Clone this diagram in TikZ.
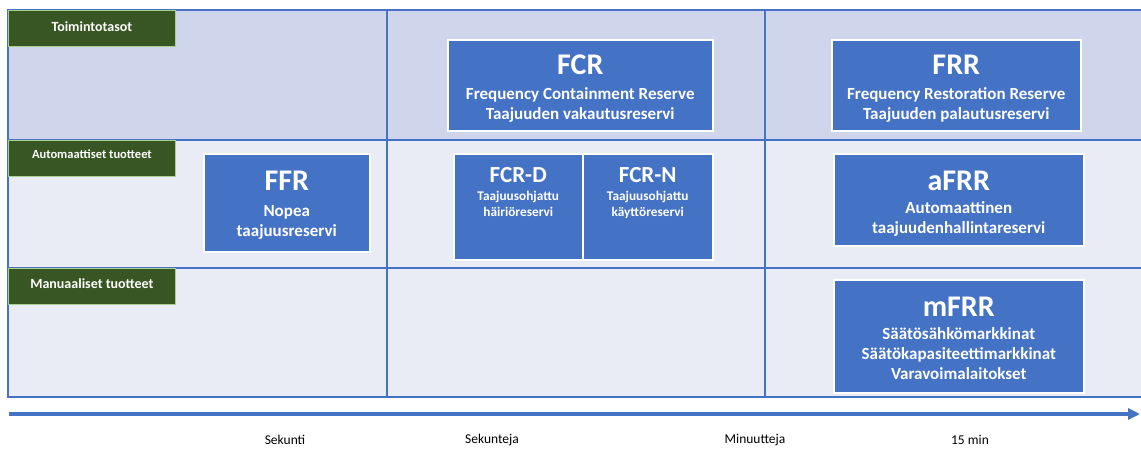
\documentclass[tikz,border=0pt]{standalone}
\usepackage{fontspec}
\setmainfont{Carlito}
\usetikzlibrary{arrows.meta, positioning}

\definecolor{resblue}{HTML}{4472C4}
\definecolor{levelgreen}{HTML}{375623}
\definecolor{levelrim}{HTML}{A9D18E}
\definecolor{toprow}{HTML}{CFD5EA}
\definecolor{lowrow}{HTML}{E9EBF5}

\newcommand{\restitle}[1]{{\fontsize{30}{30}\selectfont #1}}
\newcommand{\ressmalltitle}[1]{{\fontsize{23}{23}\selectfont #1}}

\begin{document}
\begin{tikzpicture}[
		x=1pt, y=-1pt,
		% Styles
		reservebox/.style={draw=white, line width=1.5pt, fill=resblue, inner sep=0pt, anchor=north west},
		restext/.style={text=white, font=\bfseries\fontsize{17}{20}\selectfont, align=center, inner sep=0pt, anchor=north},
		ressmall/.style={text=white, font=\bfseries\fontsize{13.3}{16}\selectfont, align=center, inner sep=0pt, anchor=north},
		levelbox/.style={draw=levelrim, line width=0.8pt, fill=levelgreen, minimum width=167pt, minimum height=36pt, inner sep=0pt, anchor=north west},
		leveltext/.style={text=white, font=\bfseries\fontsize{14}{16}\selectfont, inner sep=0pt, anchor=north},
		gridline/.style={draw=resblue, line width=1.4pt},
		axisarrow/.style={-{Triangle[length=12pt, width=11pt]}, draw=resblue, line width=3.2pt},
		timelabel/.style={font=\fontsize{13.5}{16}\selectfont, text=black, inner sep=0pt}
		]
		
		\useasboundingbox[fill=white] (0,0) rectangle (1141,448);
		
		% =========================================================
		% 1. GRID: three levels, three time columns
		% =========================================================
		\fill[toprow] (8,10) rectangle (1141,140);
		\fill[lowrow] (8,140) rectangle (1141,397);
		\draw[gridline] (1141,10) -- (8,10) -- (8,397) -- (1141,397);
		\foreach \y in {140,268}
			\draw[gridline] (8,\y) -- (1141,\y);
		\foreach \x in {387,765}
			\draw[gridline] (\x,10) -- (\x,397);
		
		% Level labels
		\node[levelbox] (L1) at (8,10) {};
		\node[leveltext, below=11pt of L1.north] {Toimintotasot};
		\node[levelbox] (L2) at (8,140) {};
		\node[leveltext, font=\bfseries\fontsize{12.5}{15}\selectfont, below=10pt of L2.north] {Automaattiset tuotteet};
		\node[levelbox] (L3) at (8,268) {};
		\node[leveltext, below=10pt of L3.north] {Manuaaliset tuotteet};
		
		% =========================================================
		% 2. TOP LEVEL: FCR and FRR
		% =========================================================
		\node[reservebox, minimum width=265pt, minimum height=91pt] (FCR) at (447,39) {};
		\node[restext, below=16pt of FCR.north] {\restitle{FCR}\\[5pt] Frequency Containment Reserve\\ Taajuuden vakautusreservi};
		
		\node[reservebox, minimum width=249pt, minimum height=91pt] (FRR) at (831,39) {};
		\node[restext, below=16pt of FRR.north] {\restitle{FRR}\\[5pt] Frequency Restoration Reserve\\ Taajuuden palautusreservi};
		
		% =========================================================
		% 3. AUTOMATIC PRODUCTS
		% =========================================================
		\node[reservebox, minimum width=166pt, minimum height=98pt] (FFR) at (203,153) {};
		\node[restext, below=18pt of FFR.north] {\restitle{FFR}\\[6pt] Nopea\\ taajuusreservi};
		
		\node[reservebox, minimum width=129pt, minimum height=106pt] (FCRD) at (453,153) {};
		\node[ressmall, below=14pt of FCRD.north] {\ressmalltitle{FCR-D}\\[2pt] Taajuusohjattu\\ häiriöreservi};
		
		\node[reservebox, minimum width=130pt, minimum height=106pt] (FCRN) at (582,153) {};
		\node[ressmall, below=14pt of FCRN.north] {\ressmalltitle{FCR-N}\\[2pt] Taajuusohjattu\\ käyttöreservi};
		
		\node[reservebox, minimum width=250pt, minimum height=92pt] (aFRR) at (833,153) {};
		\node[restext, below=18pt of aFRR.north] {\restitle{aFRR}\\[3pt] Automaattinen\\ taajuudenhallintareservi};
		
		% =========================================================
		% 4. MANUAL PRODUCTS
		% =========================================================
		\node[reservebox, minimum width=250pt, minimum height=113pt] (mFRR) at (833,279) {};
		\node[restext, below=18pt of mFRR.north] {\restitle{mFRR}\\[3pt] Säätösähkömarkkinat\\ Säätökapasiteettimarkkinat\\ Varavoimalaitokset};
		
		% =========================================================
		% 5. TIME AXIS
		% =========================================================
		\coordinate (axisstart) at (9,414);
		\coordinate (axisend) at (1140,414);
		\draw[axisarrow] (axisstart) -- (axisend);
		
		\node[timelabel] (T1) at (285,440) {Sekunti};
		\node[timelabel] (T2) at (492,440) {Sekunteja};
		\node[timelabel] (T3) at (755,440) {Minuutteja};
		\node[timelabel] (T4) at (970,440) {15 min};
		
	\end{tikzpicture}
\end{document}
